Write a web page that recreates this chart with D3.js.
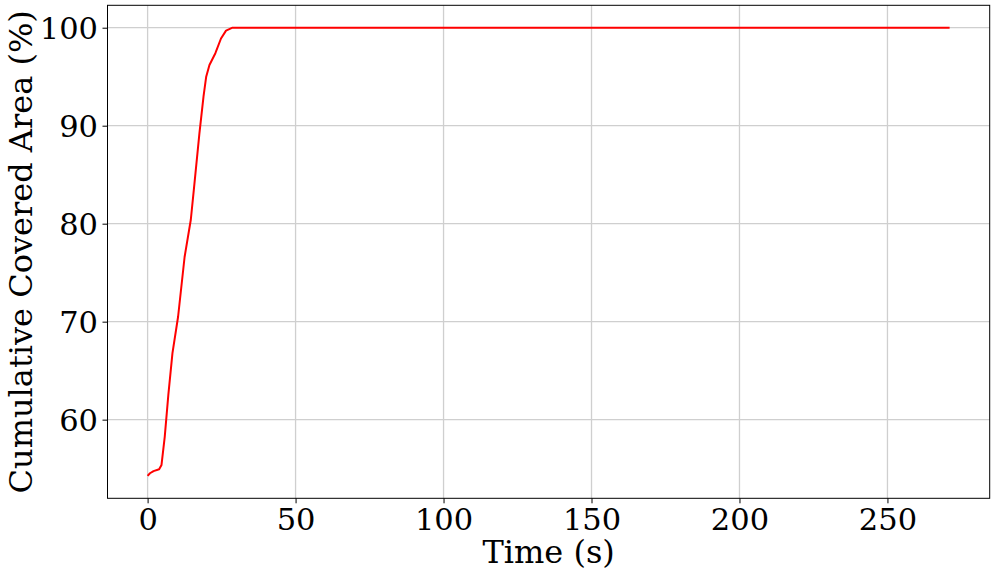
<!DOCTYPE html>
<html>
<head>
<meta charset="utf-8">
<script src="https://cdn.jsdelivr.net/npm/d3@7"></script>
<style>
  html, body { margin: 0; padding: 0; background: #fff; }
  svg { display: block; }
  text { font-family: "DejaVu Serif", serif; }
</style>
</head>
<body>
<svg id="chart" width="996" height="574"></svg>
<script>
// Data
const timeS = [0, 0.8, 2.0, 3.9, 4.7, 5.8, 7.0, 8.4, 10.3, 12.5, 14.6, 15.6, 17.5, 18.9, 19.8, 20.9, 22.9, 24.8, 26.5, 28.7, 50, 100, 150, 200, 250, 271];
const coveredPct = [54.26, 54.53, 54.75, 54.94, 55.38, 58.27, 62.5, 66.78, 70.5, 76.6, 80.4, 83.4, 89.2, 93.0, 95.0, 96.2, 97.4, 98.9, 99.7, 100, 100, 100, 100, 100, 100, 100];
const xTicks = [0, 50, 100, 150, 200, 250];
const yTicks = [60, 70, 80, 90, 100];
const xLabel = "Time (s)";
const yLabel = "Cumulative Covered Area (%)";

const W = 996, H = 574;
const plot = { left: 107.5, right: 989.7, top: 5.3, bottom: 498.3 };

const svg = d3.select("#chart");

const xMin = d3.min(timeS), xMax = d3.max(timeS);
const yMin = d3.min(coveredPct), yMax = d3.max(coveredPct);
const xPad = (xMax - xMin) * 0.05, yPad = (yMax - yMin) * 0.05;

const x = d3.scaleLinear().domain([xMin - xPad, xMax + xPad]).range([plot.left, plot.right]);
const y = d3.scaleLinear().domain([yMin - yPad, yMax + yPad]).range([plot.bottom, plot.top]);

// grid
const grid = svg.append("g");
grid.selectAll("line.vx").data(xTicks).enter().append("line")
  .attr("x1", d => x(d)).attr("x2", d => x(d))
  .attr("y1", plot.top).attr("y2", plot.bottom)
  .attr("stroke", "#cfcfcf").attr("stroke-width", 1.3);
grid.selectAll("line.hy").data(yTicks).enter().append("line")
  .attr("y1", d => y(d)).attr("y2", d => y(d))
  .attr("x1", plot.left).attr("x2", plot.right)
  .attr("stroke", "#cfcfcf").attr("stroke-width", 1.3);

// line
const line = d3.line().x((d, i) => x(timeS[i])).y(d => y(d));
svg.append("path")
  .datum(coveredPct)
  .attr("d", line)
  .attr("fill", "none")
  .attr("stroke", "#ff0000")
  .attr("stroke-width", 2)
  .attr("stroke-linejoin", "round");

// axes
const xAxis = d3.axisBottom(x).tickValues(xTicks).tickSize(5).tickPadding(5).tickFormat(d3.format("d"));
const yAxis = d3.axisLeft(y).tickValues(yTicks).tickSize(5).tickPadding(4.5).tickFormat(d3.format("d"));

const gx = svg.append("g").attr("transform", `translate(0,${plot.bottom})`).call(xAxis);
const gy = svg.append("g").attr("transform", `translate(${plot.left},0)`).call(yAxis);
[gx, gy].forEach(g => {
  g.select(".domain").remove();
  g.selectAll(".tick line").attr("stroke", "#000").attr("stroke-width", 1);
  g.selectAll(".tick text").attr("fill", "#000")
    .style("font-family", "'DejaVu Serif', serif").style("font-size", "30.5px");
});
gy.selectAll(".tick text").attr("dy", "0.36em");

// frame
svg.append("rect")
  .attr("x", plot.left).attr("y", plot.top)
  .attr("width", plot.right - plot.left).attr("height", plot.bottom - plot.top)
  .attr("fill", "none").attr("stroke", "#000").attr("stroke-width", 1);

// labels
svg.append("text")
  .attr("x", (plot.left + plot.right) / 2).attr("y", 563)
  .attr("text-anchor", "middle")
  .style("font-size", "32px").attr("fill", "#000")
  .text(xLabel);

svg.append("text")
  .attr("transform", `translate(32,${(plot.top + plot.bottom) / 2}) rotate(-90)`)
  .attr("text-anchor", "middle")
  .style("font-size", "32px").attr("fill", "#000")
  .text(yLabel);
</script>
</body>
</html>
